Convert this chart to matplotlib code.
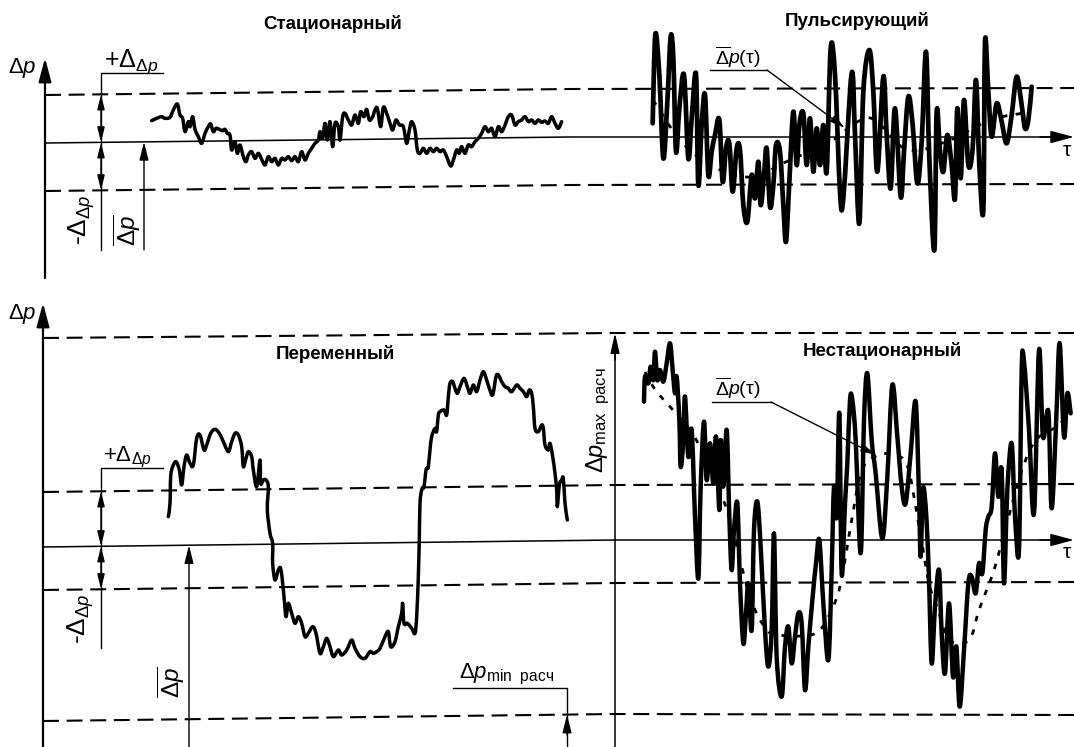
import numpy as np
import matplotlib
matplotlib.use("Agg")
import matplotlib.pyplot as plt
from matplotlib.path import Path
from matplotlib.patches import PathPatch

plt.rcParams["font.family"] = ["Liberation Sans", "DejaVu Sans"]
plt.rcParams["mathtext.fontset"] = "custom"
plt.rcParams["mathtext.rm"] = "Liberation Sans"
plt.rcParams["mathtext.it"] = "Liberation Sans:italic"
plt.rcParams["mathtext.bf"] = "Liberation Sans:bold"
plt.rcParams["lines.scale_dashes"] = False

# ---------------------------------------------------------------- data
TITLES = ["Стационарный", "Пульсирующий", "Переменный", "Нестационарный"]

# pressure traces, sampled on a 1/3-pixel grid relative to each trace origin
STAT_PTS = [(35, 92), (50, 85), (65, 80), (75, 85), (90, 82), (100, 60), (112, 42), (120, 75),
            (128, 85), (135, 125), (145, 95), (150, 110), (158, 80), (165, 118), (175, 140),
            (185, 160), (195, 130), (205, 110), (212, 102), (220, 125), (228, 115), (238, 118),
            (248, 122), (255, 118), (262, 130), (270, 135), (275, 180), (285, 155), (292, 190),
            (300, 165), (310, 200), (318, 215), (325, 195), (335, 185), (345, 205), (355, 190),
            (365, 208), (375, 225), (385, 200), (395, 215), (405, 205), (415, 225), (425, 205),
            (435, 210), (445, 200), (455, 212), (465, 200), (475, 215), (485, 185), (495, 210),
            (505, 190), (515, 175), (525, 160), (535, 150), (540, 125), (548, 145), (555, 100),
            (562, 150), (570, 95), (578, 170), (585, 100), (595, 110), (600, 150), (608, 80),
            (615, 70), (625, 90), (635, 105), (645, 75), (655, 100), (662, 65), (672, 80),
            (680, 58), (688, 90), (698, 80), (705, 60), (712, 55), (722, 110), (730, 52),
            (740, 70), (750, 100), (758, 120), (768, 90), (778, 105), (790, 110), (800, 160),
            (808, 120), (815, 95), (825, 120), (832, 180), (840, 190), (850, 175), (860, 190),
            (870, 175), (880, 185), (890, 175), (900, 185), (910, 180), (920, 200), (932, 228),
            (940, 210), (950, 180), (958, 190), (965, 170), (975, 190), (985, 165), (995, 170),
            (1005, 155), (1015, 145), (1025, 130), (1035, 110), (1045, 125), (1055, 115),
            (1065, 140), (1075, 110), (1085, 125), (1095, 105), (1105, 80), (1115, 75),
            (1125, 105), (1135, 95), (1145, 90), (1155, 80), (1165, 95), (1175, 90), (1185, 100),
            (1195, 90), (1205, 97), (1215, 93), (1225, 100), (1235, 80), (1245, 100),
            (1255, 115), (1265, 95)]

PULS_PTS = [(38, 295), (46, 28), (58, 150), (70, 400), (82, 230), (92, 35), (100, 100), (108, 380),
            (118, 250), (132, 150), (145, 400), (155, 280), (168, 148), (175, 480), (185, 300),
            (195, 210), (205, 450), (215, 380), (225, 330), (238, 285), (248, 470), (258, 370),
            (268, 355), (278, 500), (290, 370), (300, 375), (310, 540), (322, 590), (335, 450),
            (345, 520), (355, 410), (362, 540), (372, 450), (380, 370), (390, 545), (400, 480),
            (408, 360), (420, 380), (430, 540), (438, 650), (448, 470), (460, 260), (470, 420),
            (478, 300), (490, 265), (500, 420), (510, 280), (520, 440), (530, 310), (540, 420),
            (550, 300), (560, 440), (572, 70), (585, 150), (600, 500), (610, 520), (635, 145),
            (645, 330), (658, 595), (670, 200), (688, 75), (700, 200), (712, 440), (730, 155),
            (740, 330), (752, 490), (765, 250), (782, 515), (792, 380), (805, 215), (818, 300),
            (832, 475), (845, 350), (858, 80), (868, 400), (883, 675), (890, 260), (900, 380),
            (910, 440), (922, 330), (935, 420), (945, 520), (952, 250), (962, 460), (972, 225),
            (985, 420), (998, 370), (1008, 165), (1018, 420), (1030, 555), (1035, 50),
            (1045, 200), (1055, 335), (1070, 235), (1085, 290), (1100, 355), (1115, 270),
            (1130, 155), (1145, 240), (1155, 310), (1165, 285), (1175, 185)]

VAR_PTS = [(25, 440), (30, 400), (32, 320), (38, 290), (48, 275), (58, 300), (65, 345), (72, 290),
           (80, 255), (90, 280), (100, 285), (110, 205), (120, 195), (132, 240), (140, 225),
           (152, 190), (165, 178), (178, 190), (190, 215), (205, 245), (215, 215), (225, 190),
           (235, 195), (245, 230), (250, 290), (258, 265), (265, 245), (275, 260), (280, 300),
           (290, 350), (300, 270), (302, 340), (310, 330), (318, 330), (325, 350), (322, 420),
           (330, 490), (338, 520), (338, 580), (345, 630), (355, 600), (362, 595), (368, 640),
           (372, 680), (378, 740), (385, 700), (395, 730), (405, 760), (415, 740), (425, 760),
           (435, 800), (445, 790), (458, 770), (468, 790), (480, 850), (490, 830), (500, 805),
           (510, 830), (520, 860), (535, 840), (545, 855), (560, 840), (575, 810), (585, 835),
           (600, 860), (615, 865), (630, 845), (640, 850), (650, 845), (660, 835), (675, 800),
           (685, 785), (692, 830), (705, 815), (715, 770), (725, 730), (728, 700), (732, 760),
           (742, 760), (755, 775), (765, 790), (770, 740), (775, 620), (778, 500), (780, 400),
           (785, 360), (792, 350), (798, 300), (802, 295), (805, 290), (810, 240), (815, 200),
           (825, 175), (830, 185), (835, 135), (840, 125), (852, 120), (860, 135), (865, 80),
           (870, 40), (878, 35), (885, 55), (892, 70), (900, 50), (912, 25), (922, 50), (930, 70),
           (940, 45), (950, 65), (960, 30), (970, 5), (980, 30), (988, 55), (998, 75), (1008, 20),
           (1015, 15), (1025, 35), (1035, 50), (1045, 55), (1055, 65), (1070, 45), (1080, 55),
           (1090, 65), (1100, 80), (1108, 60), (1115, 70), (1120, 110), (1125, 175), (1135, 185),
           (1145, 165), (1150, 175), (1155, 225), (1165, 240), (1170, 220), (1178, 260),
           (1185, 310), (1190, 360), (1192, 410), (1198, 345), (1205, 330), (1210, 325),
           (1215, 400), (1222, 450)]

NONST_PTS = [(42, 215), (45, 140), (55, 160), (62, 110), (70, 150), (75, 65), (82, 150), (90, 120),
             (100, 155), (110, 100), (120, 40), (128, 120), (135, 190), (140, 140), (148, 270),
             (152, 410), (160, 330), (165, 200), (175, 380), (185, 300), (195, 560), (205, 745),
             (212, 470), (222, 275), (230, 450), (240, 340), (250, 460), (258, 320), (268, 540),
             (272, 330), (280, 470), (290, 300), (298, 560), (305, 720), (312, 600), (322, 520),
             (330, 760), (340, 940), (348, 850), (355, 760), (365, 900), (372, 600), (382, 515),
             (392, 650), (405, 900), (415, 1010), (425, 900), (432, 610), (440, 980), (455, 1100),
             (465, 950), (475, 890), (485, 1000), (495, 920), (505, 850), (515, 880), (525, 1080),
             (535, 950), (548, 800), (558, 700), (568, 630), (580, 820), (595, 990), (605, 720),
             (612, 470), (620, 560), (628, 250), (635, 730), (645, 520), (652, 400), (660, 210),
             (667, 210), (677, 330), (692, 670), (702, 270), (712, 130), (725, 330), (737, 430),
             (757, 625), (772, 440), (787, 165), (802, 320), (815, 470), (827, 520), (842, 370),
             (857, 215), (867, 500), (872, 680), (879, 475), (889, 560), (897, 750), (905, 1000),
             (915, 830), (927, 720), (935, 910), (945, 1030), (957, 820), (969, 1040), (979, 950),
             (989, 1130), (1002, 960), (1015, 760), (1025, 740), (1037, 790), (1047, 700),
             (1057, 730), (1067, 600), (1075, 560), (1085, 530), (1095, 370), (1105, 500),
             (1115, 420), (1122, 760), (1132, 480), (1145, 340), (1155, 560), (1167, 660),
             (1175, 120), (1182, 95), (1197, 300), (1212, 550), (1227, 60), (1239, 320),
             (1255, 245), (1265, 535), (1279, 260), (1289, 40), (1302, 320), (1312, 190),
             (1322, 250)]

# running means Δp̄(τ), in pixels
PULS_MEAN = [(653, 100), (680, 140), (710, 165), (750, 177), (790, 160), (830, 142), (857, 122),
             (875, 120), (908, 150), (950, 140), (990, 120), (1030, 112)]
NONST_MEAN = [(645, 372), (657, 392), (692, 433), (715, 480), (730, 520), (750, 597), (767, 630),
              (780, 635), (800, 636), (820, 630), (837, 597), (845, 560), (850, 530), (862, 470),
              (879, 455), (892, 455), (907, 465), (918, 520), (929, 583), (939, 613), (949, 640),
              (969, 640), (979, 610), (994, 570), (1005, 530), (1022, 470), (1036, 440),
              (1056, 427), (1071, 413)]

# level lines of both panels (x breakpoints and y of each level)
TOP_X = [45, 570, 1074]
TOP_LEVELS = {"upper": [95, 89, 88], "mean": [143, 137, 137], "lower": [191, 185, 184]}
BOT_X = [43, 615, 1074]
BOT_LEVELS = {"max": [338, 333, 333], "upper": [492, 485, 484], "mean": [547, 540, 540],
              "lower": [590, 583, 582], "min": [721, 714, 715]}

# ---------------------------------------------------------------- figure
W, H = 1074, 747
fig = plt.figure(figsize=(W / 100, H / 100), dpi=100)
ax = fig.add_axes([0, 0, 1, 1])
ax.set_xlim(0, W)
ax.set_ylim(H, 0)
ax.axis("off")

K = "black"
DASH = (0, (11.5, 5.5))


def smooth(points):
    """Catmull-Rom path through the given points (drawn as cubic Béziers)."""
    p = np.asarray(points, dtype=float)
    n = len(p)
    verts, codes = [p[0]], [Path.MOVETO]
    for i in range(n - 1):
        p0 = p[i - 1] if i > 0 else p[i]
        p1, p2 = p[i], p[i + 1]
        p3 = p[i + 2] if i + 2 < n else p[i + 1]
        verts += [p1 + (p2 - p0) / 6, p2 - (p3 - p1) / 6, p2]
        codes += [Path.CURVE4] * 3
    return Path(verts, codes)


def trace(pts, origin, lw):
    a = np.asarray(pts, dtype=float)
    xy = np.column_stack([origin[0] + a[:, 0] / 3, origin[1] + a[:, 1] / 3])
    ax.add_patch(PathPatch(smooth(xy), fill=False, edgecolor=K, lw=lw,
                           joinstyle="round", capstyle="round"))


def mean_curve(pts):
    ax.add_patch(PathPatch(smooth(pts), fill=False, edgecolor=K, lw=2.0,
                           linestyle=(0, (4, 6))))


def arrow(tail, tip, lw=1.1, hl=1.0, hw=0.3, ms=12):
    ax.annotate("", xy=tip, xytext=tail,
                arrowprops=dict(arrowstyle=f"-|>,head_length={hl},head_width={hw}",
                                color=K, lw=lw, shrinkA=0, shrinkB=0, mutation_scale=ms))


def darrow(x, y0, y1):
    ax.annotate("", xy=(x, y1), xytext=(x, y0),
                arrowprops=dict(arrowstyle="<|-|>,head_length=0.9,head_width=0.22",
                                color=K, lw=1.0, shrinkA=0, shrinkB=0, mutation_scale=10))


def level_at(xs, ys, x):
    return float(np.interp(x, xs, ys))


# level lines
for name, ys in TOP_LEVELS.items():
    if name == "mean":
        ax.plot(TOP_X[:-1] + [1050], ys, color=K, lw=1.1)
    else:
        ax.plot(TOP_X, ys, color=K, lw=1.5, linestyle=DASH)
for name, ys in BOT_LEVELS.items():
    if name == "mean":
        ax.plot(BOT_X[:-1] + [1050], ys, color=K, lw=1.1)
    else:
        ax.plot(BOT_X, ys, color=K, lw=1.5, linestyle=DASH)

# axes with arrows
arrow((45, 278), (45, 58), lw=1.6, hl=1.2, hw=0.32, ms=12)
arrow((43, 747), (43, 303), lw=1.6, hl=1.2, hw=0.32, ms=12)
arrow((1040, 137), (1074, 137), lw=1.1, hl=1.2, hw=0.32, ms=12)
arrow((1040, 540), (1074, 540), lw=1.1, hl=1.2, hw=0.32, ms=12)

ax.text(22, 68, r"$\Delta p$", fontsize=16, ha="center", va="center")
ax.text(22, 314, r"$\Delta p$", fontsize=16, ha="center", va="center")
ax.text(1067, 151, "τ", fontsize=15, ha="center", va="center")
ax.text(1067, 553, "τ", fontsize=15, ha="center", va="center")

# titles
ax.text(333, 24, TITLES[0], fontsize=13.5, fontweight="bold", ha="center", va="center")
ax.text(857, 21, TITLES[1], fontsize=13.5, fontweight="bold", ha="center", va="center")
ax.text(335, 354, TITLES[2], fontsize=13.5, fontweight="bold", ha="center", va="center")
ax.text(882, 351, TITLES[3], fontsize=13.5, fontweight="bold", ha="center", va="center")

# tolerance brackets, top panel
bx = 101
t_up = level_at(TOP_X, TOP_LEVELS["upper"], bx)
t_mid = level_at(TOP_X, TOP_LEVELS["mean"], bx)
t_lo = level_at(TOP_X, TOP_LEVELS["lower"], bx)
ax.plot([bx, bx, 163], [250, 73, 73], color=K, lw=1.0)
darrow(bx, t_mid, t_up)
darrow(bx, t_mid, t_lo)
ax.text(104, 67, r"$+\Delta_{\Delta p}$", fontsize=18, ha="left", va="baseline")
ax.text(82, 220, r"-$\Delta_{\Delta p}$", fontsize=19, ha="center", va="center", rotation=90)
mx = 144
arrow((mx, 250), (mx, level_at(TOP_X, TOP_LEVELS["mean"], mx)), lw=1.0, hl=1.0, hw=0.25, ms=11)
ax.text(127, 230, r"$\overline{\Delta p}$", fontsize=17.5, ha="center", va="center", rotation=90)

# tolerance brackets, bottom panel
b_up = level_at(BOT_X, BOT_LEVELS["upper"], bx)
b_mid = level_at(BOT_X, BOT_LEVELS["mean"], bx)
b_lo = level_at(BOT_X, BOT_LEVELS["lower"], bx)
ax.plot([bx, bx, 163], [648, 468, 468], color=K, lw=1.0)
darrow(bx, b_mid, b_up)
darrow(bx, b_mid, b_lo)
ax.text(103, 461, r"$+\Delta_{\Delta p}$", fontsize=16, ha="left", va="baseline")
ax.text(81, 619, r"-$\Delta_{\Delta p}$", fontsize=19, ha="center", va="center", rotation=90)
mx = 189
arrow((mx, 747), (mx, level_at(BOT_X, BOT_LEVELS["mean"], mx)), lw=1.0, hl=1.0, hw=0.25, ms=11)
ax.text(171, 682, r"$\overline{\Delta p}$", fontsize=17.5, ha="center", va="center", rotation=90)

# design extremes
ax.plot([615, 615], [747, 345], color=K, lw=1.1)
arrow((615, 360), (615, level_at(BOT_X, BOT_LEVELS["max"], 615)), lw=1.1, hl=1.1, hw=0.25, ms=11)
ax.text(598, 420, r"$\Delta p_{\mathrm{max\ \ расч}}$", fontsize=17, ha="center", va="center",
        rotation=90)
ax.plot([453, 567, 567], [688, 688, 747], color=K, lw=1.0)
arrow((567, 735), (567, level_at(BOT_X, BOT_LEVELS["min"], 567)), lw=1.0, hl=1.0, hw=0.25, ms=11)
ax.text(459, 678, r"$\Delta p_{\mathrm{min\ \ расч}}$", fontsize=16, ha="left", va="baseline")

# pressure traces
trace(STAT_PTS, (140, 90), 2.5)
trace(PULS_PTS, (640, 25), 3.4)
trace(VAR_PTS, (160, 370), 2.5)
trace(NONST_PTS, (630, 330), 3.2)
mean_curve(PULS_MEAN)
mean_curve(NONST_MEAN)

# Δp̄(τ) callouts
ax.text(738, 57, r"$\overline{\Delta}p(\mathrm{τ})$", fontsize=14, ha="center", va="center")
ax.plot([710, 767], [70, 70], color=K, lw=1.0)
arrow((767, 70), (845, 128), lw=1.0, hl=0.9, hw=0.22, ms=10)
ax.text(738, 388, r"$\overline{\Delta}p(\mathrm{τ})$", fontsize=14, ha="center", va="center")
ax.plot([712, 771], [402, 402], color=K, lw=1.0)
arrow((771, 402), (876, 455), lw=1.0, hl=0.9, hw=0.22, ms=10)

fig.savefig("out.png", dpi=100, facecolor="white")
